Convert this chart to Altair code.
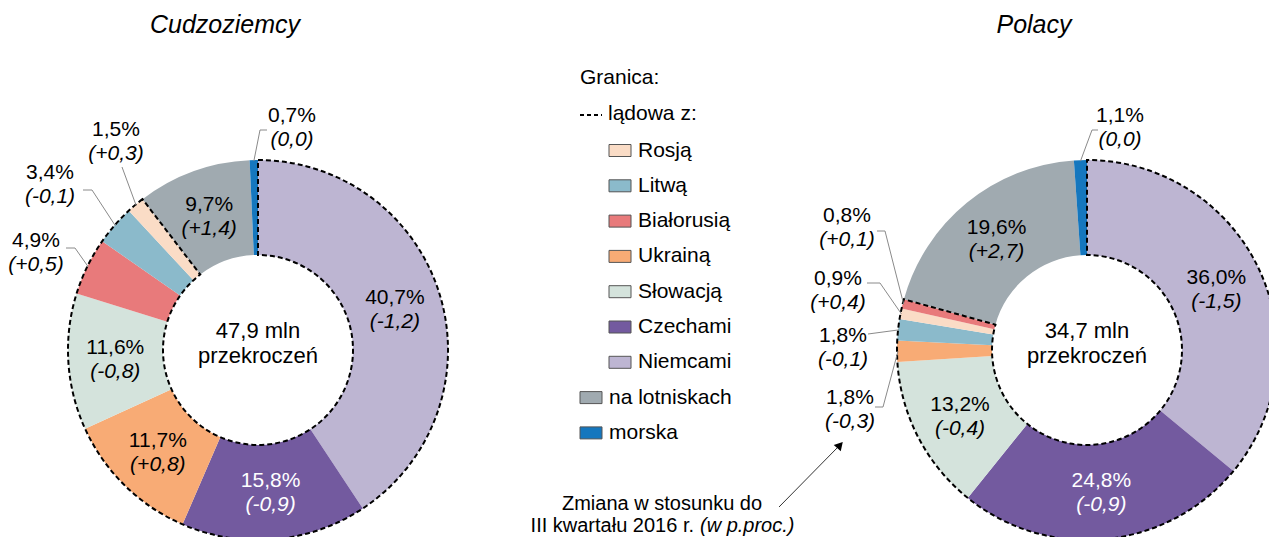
import math
import altair as alt
import pandas as pd

# ---------------- data ----------------
kraje = ["Niemcy", "Czechy", "Słowacja", "Ukraina", "Białoruś", "Litwa", "Rosja", "lotniska", "morska"]
kolory = ["#BDB5D2", "#735A9F", "#D4E3DC", "#F8AB75", "#E87A7B", "#8BBACB", "#FADCC6", "#A0AAB0", "#1577BE"]
ladowe = ["Niemcy", "Czechy", "Słowacja", "Ukraina", "Białoruś", "Litwa", "Rosja"]

cudz_kraj = ["Niemcy", "Czechy", "Ukraina", "Słowacja", "Białoruś", "Litwa", "Rosja", "lotniska", "morska"]
cudz_udzial = [40.7, 15.8, 11.7, 11.6, 4.9, 3.4, 1.5, 9.7, 0.7]
cudz_zmiana = [-1.2, -0.9, 0.8, -0.8, 0.5, -0.1, 0.3, 1.4, 0.0]

pol_kraj = ["Niemcy", "Czechy", "Słowacja", "Ukraina", "Litwa", "Rosja", "Białoruś", "lotniska", "morska"]
pol_udzial = [36.0, 24.8, 13.2, 1.8, 1.8, 0.9, 0.8, 19.6, 1.1]
pol_zmiana = [-1.5, -0.9, -0.4, -0.3, -0.1, 0.4, 0.1, 2.7, 0.0]

tytuly = ["Cudzoziemcy", "Polacy"]
sumy = ["47,9 mln", "34,7 mln"]
podpis_srodek = "przekroczeń"

leg_tytul = "Granica:"
leg_ladowa = "lądowa z:"
leg_klucze = ["Rosja", "Litwa", "Białoruś", "Ukraina", "Słowacja", "Czechy", "Niemcy", "lotniska", "morska"]
leg_etykiety = ["Rosją", "Litwą", "Białorusią", "Ukrainą", "Słowacją", "Czechami", "Niemcami", "na lotniskach", "morska"]

przypis1 = "Zmiana w stosunku do"
przypis2a = "III kwartału 2016 r."
przypis2b = "(w p.proc.)"

# ---------------- layout ----------------
W, H = 1261, 529
OFF = 8
FONT = "Liberation Sans"
R_IN, R_OUT = 95, 190
CENTERS = [(258, 350), (1087, 350)]
TITLE_X = [225, 1034]
TXT = "#000000"

# outside-label layout: label centre x, first-line y, elbow points
outside = {
    0: {
        "Białoruś": (36, 241, [(66, 248), (75, 248)]),
        "Litwa": (50, 173, [(83, 190), (92, 190)]),
        "Rosja": (116, 130, [(122, 167)]),
        "morska": (292, 116, [(267, 130), (260, 130)]),
    },
    1: {
        "morska": (1120, 116, [(1098, 130), (1092, 130)]),
        "Białoruś": (847, 216, [(877, 231), (885, 231)]),
        "Rosja": (838, 279, [(867, 283), (880, 283)]),
        "Litwa": (843, 336, [(868, 334)]),
        "Ukraina": (850, 398, [(875, 407), (883, 407)]),
    },
}


def p(v):
    return v - OFF


def fmt(v):
    return f"{abs(v):.1f}".replace(".", ",")


def fchg(v):
    if v > 0:
        return "(+" + fmt(v) + ")"
    if v < 0:
        return "(-" + fmt(v) + ")"
    return "(" + fmt(v) + ")"


xs = alt.Scale(domain=[0, W], range=[0, W])
ys = alt.Scale(domain=[0, H], range=[0, H])
th = alt.Scale(domain=[0, 100])
colscale = alt.Scale(domain=kraje, range=kolory)

layers = []
lead_rows = []
out_rows = []

for d, (kr, ud, zm) in enumerate([(cudz_kraj, cudz_udzial, cudz_zmiana), (pol_kraj, pol_udzial, pol_zmiana)]):
    cx, cy = CENTERS[d]
    rows = []
    cum = 0.0
    for i, (k, u, z) in enumerate(zip(kr, ud, zm)):
        is_out = k in outside[d]
        rows.append({
            "idx": i, "kraj": k, "udzial": u,
            "l1": "" if is_out else fmt(u) + "%",
            "l2": "" if is_out else fchg(z),
        })
        if is_out:
            lx, ly, elbows = outside[d][k]
            mid = (cum + u / 2) / 100 * 2 * math.pi
            ex = cx + (R_OUT - 1) * math.sin(mid)
            ey = cy - (R_OUT - 1) * math.cos(mid)
            pts = elbows + [(ex, ey)]
            for j, (px_, py_) in enumerate(pts):
                lead_rows.append({"id": f"{d}-{k}", "o": j, "x": p(px_), "y": p(py_)})
            out_rows.append({"x": p(lx), "y": p(ly), "t1": fmt(u) + "%", "t2": fchg(z)})
        cum += u
    df = pd.DataFrame(rows)
    base = alt.Chart(df).encode(
        theta=alt.Theta("udzial:Q", stack=True, scale=th),
        order=alt.Order("idx:Q"),
    )
    arcs = base.mark_arc(innerRadius=R_IN, outerRadius=R_OUT).encode(
        x=alt.value(p(cx)), y=alt.value(p(cy)),
        color=alt.Color("kraj:N", scale=colscale, legend=None),
    )
    tcol = alt.condition("datum.kraj == 'Czechy'", alt.value("white"), alt.value(TXT))
    t1 = base.mark_text(radius=143, dy=-11, font=FONT, fontSize=21).encode(
        x=alt.value(p(cx)), y=alt.value(p(cy)), text="l1:N", color=tcol)
    t2 = base.mark_text(radius=143, dy=13, font=FONT, fontSize=21, fontStyle="italic").encode(
        x=alt.value(p(cx)), y=alt.value(p(cy)), text="l2:N", color=tcol)
    land_sum = round(sum(u for k, u in zip(kr, ud) if k in ladowe), 1)
    dash = alt.Chart(pd.DataFrame({"v": [land_sum]})).mark_arc(
        innerRadius=R_IN, outerRadius=R_OUT, fill=None, fillOpacity=0,
        stroke="black", strokeWidth=2, strokeDash=[5, 3],
    ).encode(theta=alt.Theta("v:Q", stack=True, scale=th), x=alt.value(p(cx)), y=alt.value(p(cy)))
    layers += [arcs, dash, t1, t2]

# leader lines
leads = alt.Chart(pd.DataFrame(lead_rows)).mark_line(color="#8a8a8a", strokeWidth=1).encode(
    x=alt.X("x:Q", scale=xs, axis=None),
    y=alt.Y("y:Q", scale=ys, axis=None),
    detail="id:N",
    order="o:Q",
)
layers.append(leads)

odf = pd.DataFrame(out_rows)
o1 = alt.Chart(odf).mark_text(font=FONT, fontSize=21, color=TXT).encode(
    x=alt.X("x:Q", scale=xs, axis=None), y=alt.Y("y:Q", scale=ys, axis=None), text="t1:N")
o2 = alt.Chart(odf).transform_calculate(y2="datum.y + 24").mark_text(
    font=FONT, fontSize=21, fontStyle="italic", color=TXT).encode(
    x=alt.X("x:Q", scale=xs, axis=None), y=alt.Y("y2:Q", scale=ys, axis=None), text="t2:N")
layers += [o1, o2]

# titles and centre texts
tdf = pd.DataFrame({"x": [p(v) for v in TITLE_X], "y": [p(25)] * 2, "t": tytuly})
layers.append(alt.Chart(tdf).mark_text(font=FONT, fontSize=25, fontStyle="italic", color=TXT).encode(
    x=alt.X("x:Q", scale=xs, axis=None), y=alt.Y("y:Q", scale=ys, axis=None), text="t:N"))
cdf = pd.DataFrame({
    "x": [p(c[0]) for c in CENTERS] * 2,
    "y": [p(331)] * 2 + [p(356)] * 2,
    "t": sumy + [podpis_srodek] * 2,
})
layers.append(alt.Chart(cdf).mark_text(font=FONT, fontSize=22, color=TXT).encode(
    x=alt.X("x:Q", scale=xs, axis=None), y=alt.Y("y:Q", scale=ys, axis=None), text="t:N"))

# legend
LEG_X0, LEG_X1 = 580, 609
ROW0, STEP = 150.5, 35.3
leg_rows = []
for i, (k, lab) in enumerate(zip(leg_klucze, leg_etykiety)):
    indent = k in ladowe
    sx = LEG_X1 if indent else LEG_X0
    yy = ROW0 + STEP * i
    leg_rows.append({"kraj": k, "lab": lab, "x": p(sx), "x2": p(sx + 22), "y": p(yy - 6), "y2": p(yy + 6),
                     "tx": p(sx + 29), "ty": p(yy)})
ldf = pd.DataFrame(leg_rows)
layers.append(alt.Chart(ldf).mark_rect(stroke="#555555", strokeWidth=1).encode(
    x=alt.X("x:Q", scale=xs, axis=None), x2="x2:Q",
    y=alt.Y("y:Q", scale=ys, axis=None), y2="y2:Q",
    color=alt.Color("kraj:N", scale=colscale, legend=None)))
hdr = pd.DataFrame({"tx": [p(LEG_X0), p(LEG_X1 - 1)], "ty": [p(78), p(114)], "lab": [leg_tytul, leg_ladowa]})
for dd in (ldf[["tx", "ty", "lab"]], hdr):
    layers.append(alt.Chart(dd).mark_text(font=FONT, fontSize=21, align="left", color=TXT).encode(
        x=alt.X("tx:Q", scale=xs, axis=None), y=alt.Y("ty:Q", scale=ys, axis=None), text="lab:N"))
layers.append(alt.Chart(hdr.iloc[[1]]).mark_rule(color="black", strokeWidth=2, strokeDash=[4, 3]).encode(
    x=alt.value(p(LEG_X0)), x2=alt.value(p(LEG_X0 + 22)), y=alt.value(p(115))))

# footnote with arrow
fdf = pd.DataFrame({"x": [p(662)], "y": [p(504)], "t": [przypis1]})
layers.append(alt.Chart(fdf).mark_text(font=FONT, fontSize=20, color=TXT).encode(
    x=alt.X("x:Q", scale=xs, axis=None), y=alt.Y("y:Q", scale=ys, axis=None), text="t:N"))
f2a = pd.DataFrame({"x": [p(694)], "y": [p(526)], "t": [przypis2a]})
layers.append(alt.Chart(f2a).mark_text(font=FONT, fontSize=20, align="right", color=TXT).encode(
    x=alt.X("x:Q", scale=xs, axis=None), y=alt.Y("y:Q", scale=ys, axis=None), text="t:N"))
f2b = pd.DataFrame({"x": [p(700)], "y": [p(526)], "t": [przypis2b]})
layers.append(alt.Chart(f2b).mark_text(font=FONT, fontSize=20, align="left", fontStyle="italic", color=TXT).encode(
    x=alt.X("x:Q", scale=xs, axis=None), y=alt.Y("y:Q", scale=ys, axis=None), text="t:N"))
arrow = pd.DataFrame({"x": [p(779)], "y": [p(507)], "x2": [p(838)], "y2": [p(447)]})
layers.append(alt.Chart(arrow).mark_rule(color="#333333", strokeWidth=1).encode(
    x=alt.X("x:Q", scale=xs, axis=None), y=alt.Y("y:Q", scale=ys, axis=None), x2="x2:Q", y2="y2:Q"))
head = pd.DataFrame({"x": [p(840)], "y": [p(445)]})
layers.append(alt.Chart(head).mark_point(shape="triangle-up", filled=True, size=90, angle=42, color="black", opacity=1).encode(
    x=alt.X("x:Q", scale=xs, axis=None), y=alt.Y("y:Q", scale=ys, axis=None)))

chart = alt.layer(*layers).properties(
    width=W, height=H, padding=0, autosize=alt.AutoSizeParams(type="none")
).configure_view(stroke=None).configure_text(font=FONT)

chart.save("out.html", embed_options={"renderer": "svg", "actions": False})
